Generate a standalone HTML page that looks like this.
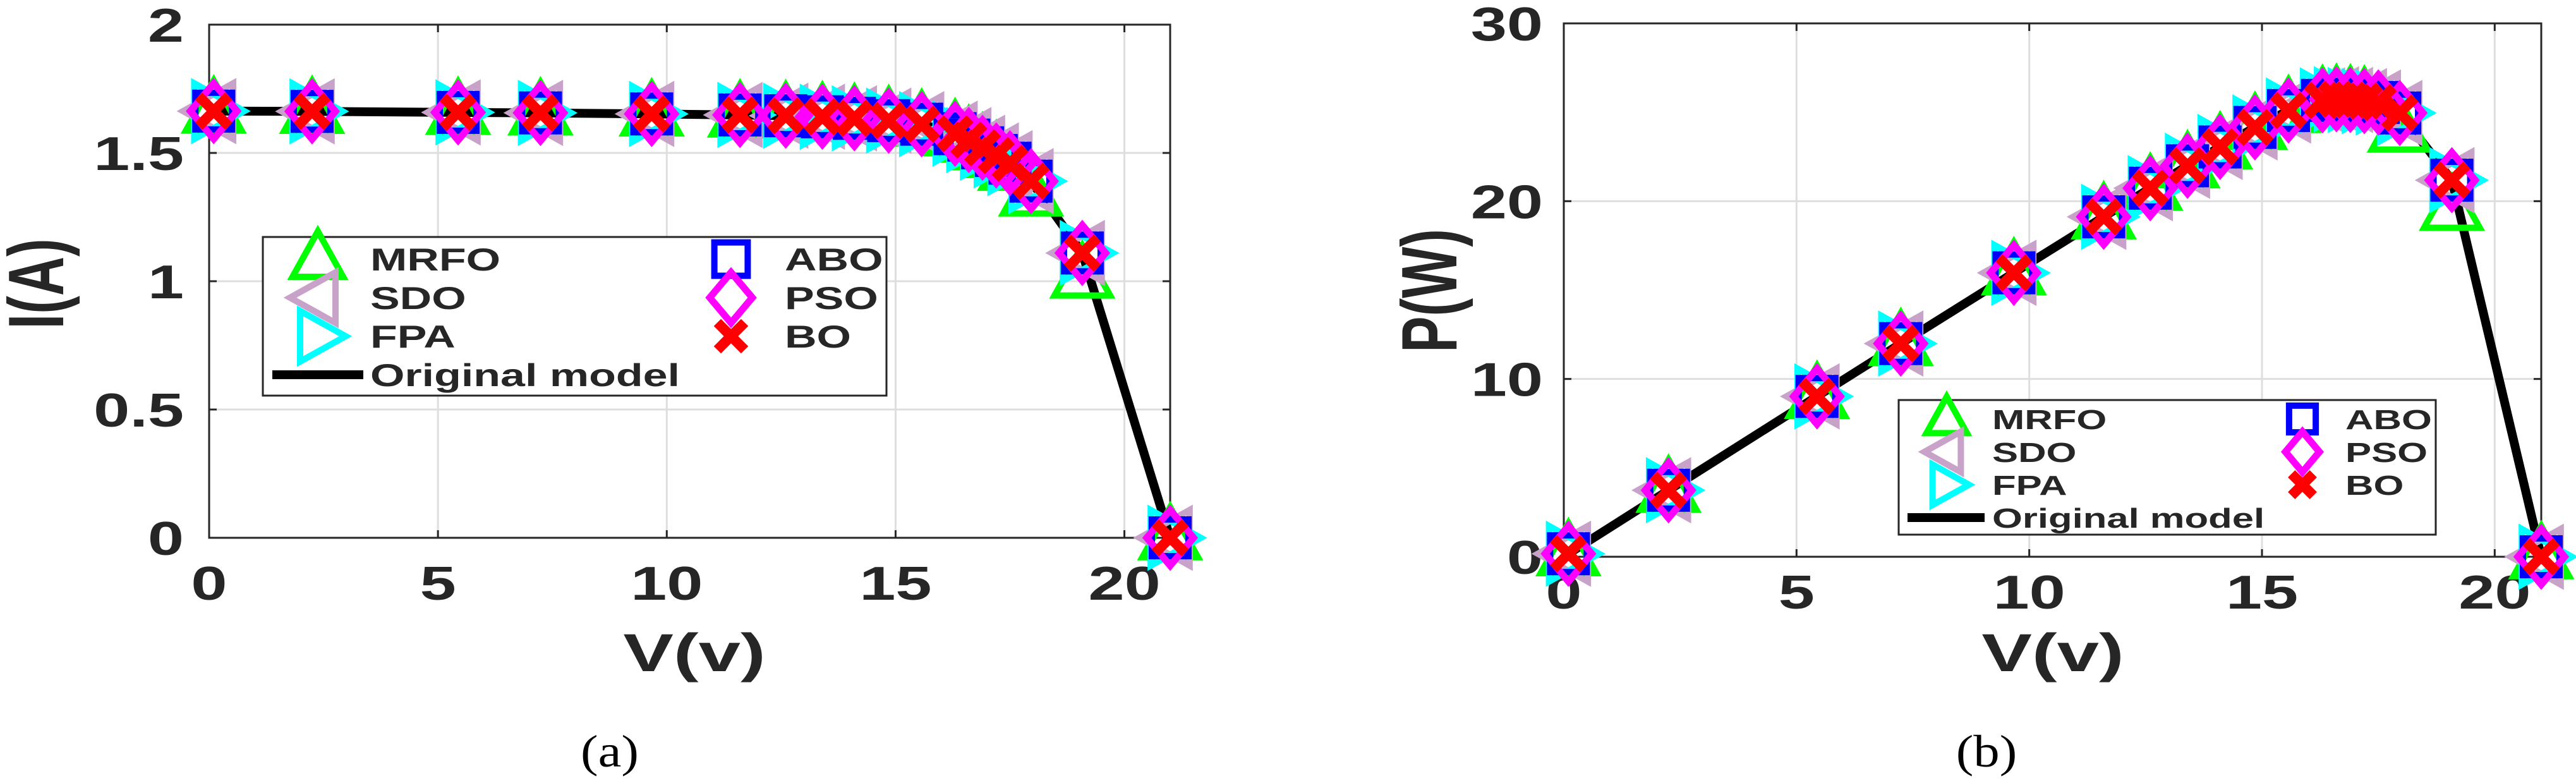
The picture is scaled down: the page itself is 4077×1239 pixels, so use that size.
<!DOCTYPE html>
<html><head><meta charset="utf-8"><style>
html,body{margin:0;padding:0;background:#fff;}
svg{display:block;}
text{font-family:"Liberation Sans",Arial,sans-serif;font-weight:bold;fill:#262626;}
</style></head><body>
<svg id="fig" width="4077" height="1239" viewBox="0 0 4077 1239" xmlns="http://www.w3.org/2000/svg"></svg>
<script>
const voltages = [0.1,2.25,5.44,7.24,9.67,11.6,12.6,13.4,14.1,14.85,15.57,16.3,16.6,16.9,17.2,17.5,17.96,19.08,21.0];
const currentModel = [1.663,1.662,1.658,1.656,1.652,1.648,1.645,1.641,1.635,1.626,1.612,1.575,1.55,1.52,1.49,1.46,1.39,1.11,0];
const currentMRFO = [1.663,1.662,1.658,1.656,1.652,1.648,1.645,1.641,1.635,1.626,1.612,1.575,1.55,1.52,1.49,1.44,1.34,1.02,0];
const currentOthers = [1.663,1.662,1.658,1.656,1.652,1.648,1.645,1.641,1.635,1.626,1.612,1.575,1.55,1.52,1.49,1.46,1.39,1.11,0];
const powerModel = [0.17,3.74,9.02,11.99,15.97,19.12,20.73,21.99,23.05,24.15,25.10,25.67,25.73,25.69,25.63,25.55,24.96,21.18,0];
const powerMRFO = [0.17,3.74,9.02,11.99,15.97,19.12,20.73,21.99,23.05,24.15,25.10,25.67,25.73,25.69,25.63,25.3,24.0,19.6,0];
const powerOthers = [0.17,3.74,9.02,11.99,15.97,19.12,20.73,21.99,23.05,24.15,25.10,25.67,25.73,25.69,25.63,25.55,24.96,21.18,0];
const xTicks = [0,5,10,15,20];
const yTicksA = [0,0.5,1,1.5,2];
const yTickLabelsA = ["0","0.5","1","1.5","2"];
const yTicksB = [0,10,20,30];
const yTickLabelsB = ["0","10","20","30"];
const legendLabels = ["MRFO","SDO","FPA","ABO","PSO","BO","Original model"];

const NS="http://www.w3.org/2000/svg";
const svg=document.getElementById('fig');
function mk(tag,attrs,parent){const e=document.createElementNS(NS,tag);for(const k in attrs)e.setAttribute(k,attrs[k]);(parent||svg).appendChild(e);return e;}

function marker(g,type,cx,cy,s){
  let e;
  if(type==='MRFO'){e=mk('polygon',{points:`${cx},${cy-s*0.55} ${cx-s*0.5},${cy+s*0.35} ${cx+s*0.5},${cy+s*0.35}`,fill:'none',stroke:'#00ff00','stroke-width':10},g);}
  else if(type==='SDO'){e=mk('polygon',{points:`${cx-s*0.55},${cy} ${cx+s*0.35},${cy-s*0.5} ${cx+s*0.35},${cy+s*0.5}`,fill:'none',stroke:'#c8a2c8','stroke-width':10},g);}
  else if(type==='FPA'){e=mk('polygon',{points:`${cx+s*0.55},${cy} ${cx-s*0.35},${cy-s*0.5} ${cx-s*0.35},${cy+s*0.5}`,fill:'none',stroke:'#00ffff','stroke-width':10},g);}
  else if(type==='ABO'){e=mk('rect',{x:cx-s*0.33,y:cy-s*0.33,width:s*0.66,height:s*0.66,fill:'none',stroke:'#0000ff','stroke-width':10},g);}
  else if(type==='PSO'){e=mk('polygon',{points:`${cx},${cy-s*0.5} ${cx+s*0.42},${cy} ${cx},${cy+s*0.5} ${cx-s*0.42},${cy}`,fill:'none',stroke:'#ff00ff','stroke-width':11},g);}
  else {const d=s*0.27;e=mk('path',{d:`M${cx-d},${cy-d}L${cx+d},${cy+d}M${cx+d},${cy-d}L${cx-d},${cy+d}`,stroke:'#ff0000','stroke-width':16,fill:'none'},g);}
  
  
  return e;
}

function stxt(g,str,x,y,size,anchor,sx,rot,fam){
  const t=mk('text',{transform:`translate(${x},${y}) scale(${sx},1)`+(rot?` rotate(${rot})`:''),'font-size':size,'text-anchor':anchor},g);
  if(fam){t.setAttribute('style',`font-family:${fam};font-weight:normal;fill:#000`);}
  t.textContent=str;return t;
}

function chart(cfg){
  const g=mk('g',{});
  
  
  const X=v=>cfg.x0+(v-0)/(21-0)*(cfg.x1-cfg.x0);
  const Y=v=>cfg.y0-(v-0)/(cfg.ymax)*(cfg.y0-cfg.y1);
  xTicks.forEach(t=>{const l=mk('line',{x1:X(t),x2:X(t),y1:cfg.y1,y2:cfg.y0,stroke:'#dedede','stroke-width':3},g);
    
    });
  cfg.yTicks.forEach(t=>{const l=mk('line',{x1:cfg.x0,x2:cfg.x1,y1:Y(t),y2:Y(t),stroke:'#dedede','stroke-width':3},g);
    
    });
  const box=mk('rect',{x:cfg.x0,y:cfg.y1,width:cfg.x1-cfg.x0,height:cfg.y0-cfg.y1,fill:'none',stroke:'#262626','stroke-width':3},g);
  
  
  xTicks.forEach(t=>{mk('line',{x1:X(t),x2:X(t),y1:cfg.y0,y2:cfg.y0-12,stroke:'#262626','stroke-width':3},g);mk('line',{x1:X(t),x2:X(t),y1:cfg.y1,y2:cfg.y1+12,stroke:'#262626','stroke-width':3},g);
    const tl=stxt(g,String(t),X(t),cfg.xlabBase,75,'middle',1.37);
    
    });
  cfg.yTicks.forEach((t,i)=>{mk('line',{x1:cfg.x0,x2:cfg.x0+12,y1:Y(t),y2:Y(t),stroke:'#262626','stroke-width':3},g);mk('line',{x1:cfg.x1,x2:cfg.x1-12,y1:Y(t),y2:Y(t),stroke:'#262626','stroke-width':3},g);
    const tl=stxt(g,cfg.yLabels[i],cfg.ylabRight,Y(t)+27,75,'end',1.37);
    
    });
  const pl=mk('polyline',{points:voltages.map((v,i)=>X(v)+','+Y(cfg.model[i])).join(' '),fill:'none',stroke:'#000','stroke-width':14,'stroke-linejoin':'round'},g);
  
  
  const series=[['MRFO',cfg.mrfo],['SDO',cfg.others],['FPA',cfg.others],['ABO',cfg.others],['PSO',cfg.others],['BO',cfg.others]];
  series.forEach(([n,arr])=>{voltages.forEach((v,i)=>marker(g,n,X(v),Y(arr[i]),88));});
  const xl=stxt(g,'V(v)',cfg.xTitleX,1062,84,'middle',1.42);
  
  
  const yl=stxt(g,cfg.yTitle,cfg.yTitleX,cfg.yTitleY,86,'middle',1.45,-90);
  
  
  const cap=stxt(g,cfg.caption,cfg.capX,1213,72,'middle',1.15,0,'"Liberation Serif",serif');
  
  
  const L=cfg.leg;
  const lg=mk('g',{},g);
  
  
  mk('rect',{x:L.x,y:L.y,width:L.w,height:L.h,fill:'#fff',stroke:'#262626','stroke-width':3},lg);
  const names=['MRFO','SDO','FPA','ABO','PSO','BO'];
  names.forEach((n,i)=>{const col=i<3?0:1,row=i%3;
    marker(lg,n,col?L.m2:L.m1,L.rows[row],L.ms);
    const t=stxt(lg,legendLabels[i],col?L.t2:L.t1,L.rows[row]+L.fs*0.36,L.fs,'start',1.4);
    
    });
  mk('line',{x1:L.l1,x2:L.l2,y1:L.rows[3],y2:L.rows[3],stroke:'#000','stroke-width':14},lg);
  const t=stxt(lg,legendLabels[6],L.t1,L.rows[3]+L.fs*0.36,L.fs,'start',1.4);
  
  
}

chart({name:'iv-chart',x0:331,x1:1852,y0:851,y1:39,ymax:2,yTicks:yTicksA,yLabels:yTickLabelsA,
  model:currentModel,mrfo:currentMRFO,others:currentOthers,xlabBase:949,ylabRight:291,
  xTitleX:1099,yTitle:'I(A)',yTitleX:100,yTitleY:449,caption:'(a)',capX:965,
  leg:{x:416,y:375,w:987,h:251,rows:[410,471,532,593],m1:503,m2:1157,t1:586,t2:1242,l1:431,l2:575,fs:50,ms:80}});
chart({name:'pv-chart',x0:2475,x1:4022,y0:881,y1:37,ymax:30,yTicks:yTicksB,yLabels:yTickLabelsB,
  model:powerModel,mrfo:powerMRFO,others:powerOthers,xlabBase:963,ylabRight:2442,
  xTitleX:3249,yTitle:'P(W)',yTitleX:2305,yTitleY:460,caption:'(b)',capX:3144,
  leg:{x:3005,y:633,w:850,h:213,rows:[663,715,767,819],m1:3081,m2:3644,t1:3153,t2:3712,l1:3019,l2:3141,fs:44,ms:64}});
</script>
</body></html>
